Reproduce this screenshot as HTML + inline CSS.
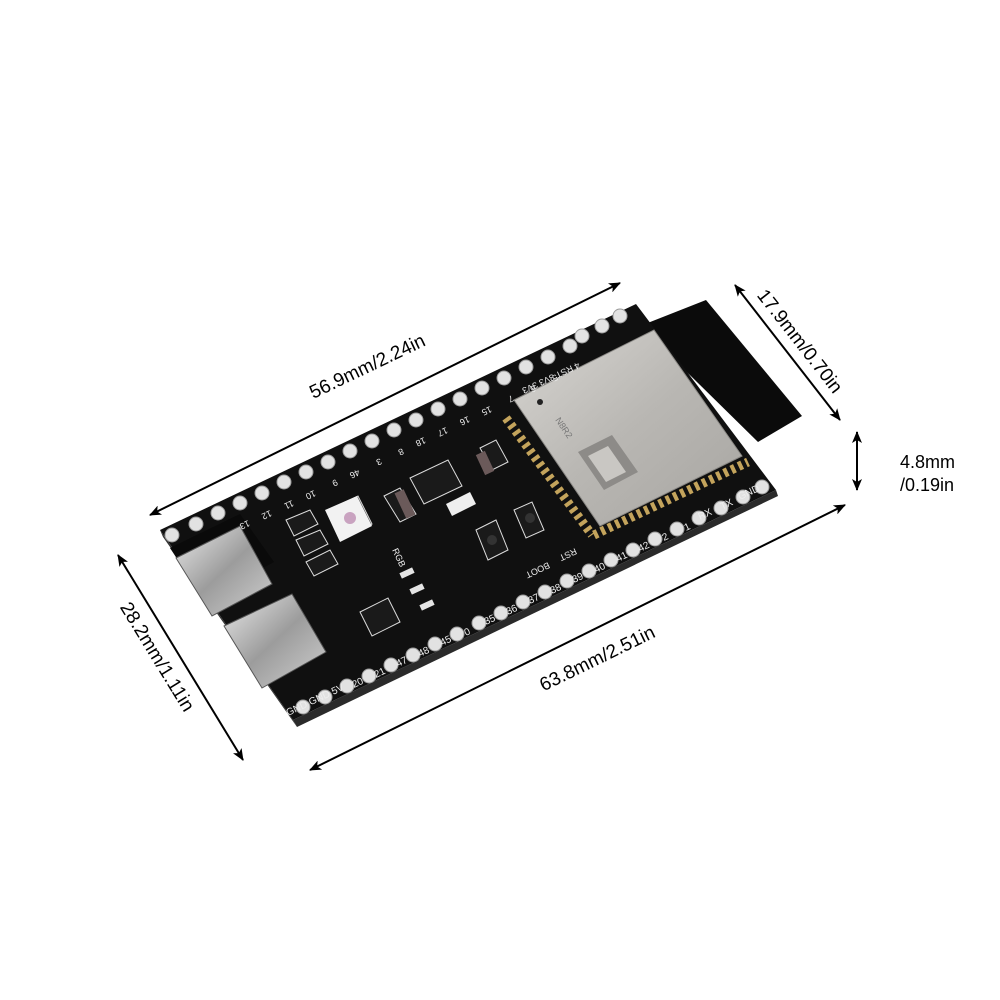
<!DOCTYPE html>
<html><head><meta charset="utf-8"><style>
html,body{margin:0;padding:0;background:#fff;}
svg{display:block;}
text{font-family:"Liberation Sans",sans-serif;}
</style></head><body>
<svg width="1000" height="1000" viewBox="0 0 1000 1000" xmlns="http://www.w3.org/2000/svg">
<defs>
<marker id="ah" markerWidth="12" markerHeight="10" refX="11" refY="5" orient="auto" markerUnits="userSpaceOnUse">
<path d="M0,0 L12,5 L0,10 L3,5 Z" fill="#000"/></marker>
<marker id="at" markerWidth="12" markerHeight="10" refX="1" refY="5" orient="auto" markerUnits="userSpaceOnUse">
<path d="M12,0 L0,5 L12,10 L9,5 Z" fill="#000"/></marker>
<linearGradient id="sil" x1="0" y1="0" x2="1" y2="1">
<stop offset="0" stop-color="#d8d6d2"/><stop offset="0.5" stop-color="#b9b7b3"/><stop offset="1" stop-color="#a7a5a1"/></linearGradient>
<linearGradient id="usb" x1="0" y1="0" x2="1" y2="1">
<stop offset="0" stop-color="#e9e9e9"/><stop offset="0.5" stop-color="#9c9c9c"/><stop offset="1" stop-color="#d0d0d0"/></linearGradient>
</defs>

<g stroke="#000" stroke-width="2" fill="none">
<line x1="150" y1="515" x2="620" y2="283" marker-start="url(#at)" marker-end="url(#ah)"/>
<line x1="735" y1="285" x2="840" y2="420" marker-start="url(#at)" marker-end="url(#ah)"/>
<line x1="857" y1="432" x2="857" y2="490" marker-start="url(#at)" marker-end="url(#ah)"/>
<line x1="310" y1="770" x2="845" y2="505" marker-start="url(#at)" marker-end="url(#ah)"/>
<line x1="118" y1="555" x2="243" y2="760" marker-start="url(#at)" marker-end="url(#ah)"/>
</g>
<g font-size="19" fill="#000">
<text x="370" y="372" text-anchor="middle" transform="rotate(-25.5 370 372)">56.9mm/2.24in</text>
<text x="795" y="345" text-anchor="middle" transform="rotate(52 795 345)">17.9mm/0.70in</text>
<text x="900" y="468" font-size="18">4.8mm</text>
<text x="900" y="491" font-size="18">/0.19in</text>
<text x="600" y="664" text-anchor="middle" transform="rotate(-26 600 664)">63.8mm/2.51in</text>
<text x="152" y="660" text-anchor="middle" transform="rotate(58.5 152 660)">28.2mm/1.11in</text>
</g>

<polygon points="640,326 706,300 802,416 758,442" fill="#0b0b0b"/>
<polygon points="160,530 636,304 776,490 293,720" fill="#101010"/>
<polygon points="160,530 293,720 297,727 163,537" fill="#333"/>
<polygon points="293,720 776,490 778,496 297,727" fill="#2a2a2a"/>

<g stroke="#c4a45c" stroke-width="9" stroke-dasharray="4 4" fill="none">
<line x1="506" y1="418" x2="592" y2="535"/>
<line x1="594" y1="535" x2="748" y2="462"/>
</g>
<polygon points="514,400 654,330 742,456 600,526" fill="url(#sil)" stroke="#8a8884" stroke-width="1"/>
<circle cx="540" cy="402" r="3" fill="#222"/>
<text x="555" y="420" font-size="9" fill="#777" transform="rotate(56 555 420)">N8R2</text>
<polygon points="578,452 612,435 638,472 604,490" fill="#8d8b88"/>
<polygon points="588,456 608,446 626,472 606,482" fill="#c9c7c3"/>

<g>
<polygon points="170,548 240,514 274,562 204,600" fill="#0a0a0a"/>
<polygon points="176,558 240,526 272,584 212,616" fill="url(#usb)" stroke="#555"/>
<polygon points="224,626 292,594 326,652 262,688" fill="url(#usb)" stroke="#555"/>
</g>

<g fill="#1a1a1a" stroke="#ddd" stroke-width="1">
<polygon points="328,510 358,496 372,524 342,540"/>
<polygon points="384,496 400,488 416,514 400,522"/>
<polygon points="410,478 448,460 462,486 424,504"/>
<polygon points="480,448 496,440 508,462 492,470"/>
<polygon points="286,520 310,510 318,524 294,536"/>
<polygon points="296,540 320,530 328,544 304,556"/>
<polygon points="306,562 330,550 338,564 314,576"/>
<polygon points="360,612 388,598 400,622 372,636"/>
<polygon points="476,530 496,520 508,550 488,560"/>
<polygon points="514,510 532,502 544,530 526,538"/>
</g>
<polygon points="325,510 357,496 372,526 340,542" fill="#f2f2f2"/>
<circle cx="350" cy="518" r="6" fill="#c9a3c0"/>
<rect x="400" y="490" width="10" height="28" fill="#6b5a5a" transform="rotate(-25 405 504)"/>
<rect x="480" y="452" width="10" height="22" fill="#6b5a5a" transform="rotate(-25 485 463)"/>
<polygon points="446,504 470,492 476,504 452,516" fill="#eee"/>
<circle cx="492" cy="540" r="5" fill="#333"/>
<circle cx="530" cy="518" r="5" fill="#333"/>
<g fill="#e5e5e5">
<rect x="400" y="570" width="14" height="6" transform="rotate(-25 407 573)"/>
<rect x="410" y="586" width="14" height="6" transform="rotate(-25 417 589)"/>
<rect x="420" y="602" width="14" height="6" transform="rotate(-25 427 605)"/>
</g>

<g fill="#e2e2e2" stroke="#9a9a9a" stroke-width="1">
<circle cx="172" cy="535" r="7"/><circle cx="196" cy="524" r="7"/><circle cx="218" cy="513" r="7"/>
<circle cx="240" cy="503" r="7"/><circle cx="262" cy="493" r="7"/><circle cx="284" cy="482" r="7"/>
<circle cx="306" cy="472" r="7"/><circle cx="328" cy="462" r="7"/><circle cx="350" cy="451" r="7"/>
<circle cx="372" cy="441" r="7"/><circle cx="394" cy="430" r="7"/><circle cx="416" cy="420" r="7"/>
<circle cx="438" cy="409" r="7"/><circle cx="460" cy="399" r="7"/><circle cx="482" cy="388" r="7"/>
<circle cx="504" cy="378" r="7"/><circle cx="526" cy="367" r="7"/><circle cx="548" cy="357" r="7"/>
<circle cx="570" cy="346" r="7"/><circle cx="582" cy="336" r="7"/><circle cx="602" cy="326" r="7"/><circle cx="620" cy="316" r="7"/>
</g>
<g fill="#e2e2e2" stroke="#9a9a9a" stroke-width="1">
<circle cx="303" cy="707" r="7"/><circle cx="325" cy="697" r="7"/><circle cx="347" cy="686" r="7"/>
<circle cx="369" cy="676" r="7"/><circle cx="391" cy="665" r="7"/><circle cx="413" cy="655" r="7"/>
<circle cx="435" cy="644" r="7"/><circle cx="457" cy="634" r="7"/><circle cx="479" cy="623" r="7"/>
<circle cx="501" cy="613" r="7"/><circle cx="523" cy="602" r="7"/><circle cx="545" cy="592" r="7"/>
<circle cx="567" cy="581" r="7"/><circle cx="589" cy="571" r="7"/><circle cx="611" cy="560" r="7"/>
<circle cx="633" cy="550" r="7"/><circle cx="655" cy="539" r="7"/><circle cx="677" cy="529" r="7"/>
<circle cx="699" cy="518" r="7"/><circle cx="721" cy="508" r="7"/><circle cx="743" cy="497" r="7"/><circle cx="762" cy="487" r="7"/>
</g>

<g fill="#eee" font-size="9">
<text transform="translate(248,520) rotate(155)">13</text>
<text transform="translate(270,510) rotate(155)">12</text>
<text transform="translate(292,500) rotate(155)">11</text>
<text transform="translate(314,490) rotate(155)">10</text>
<text transform="translate(336,479) rotate(155)">9</text>
<text transform="translate(358,469) rotate(155)">46</text>
<text transform="translate(380,458) rotate(155)">3</text>
<text transform="translate(402,448) rotate(155)">8</text>
<text transform="translate(424,437) rotate(155)">18</text>
<text transform="translate(446,427) rotate(155)">17</text>
<text transform="translate(468,416) rotate(155)">16</text>
<text transform="translate(490,406) rotate(155)">15</text>
<text transform="translate(512,395) rotate(155)">7</text>
<text transform="translate(534,385) rotate(155)">6</text>
<text transform="translate(556,374) rotate(155)">5</text>
<text transform="translate(578,362) rotate(155)">4 RST 3V3 3V3</text>
<text transform="translate(548,562) rotate(155)">BOOT</text>
<text transform="translate(575,548) rotate(155)">RST</text>
<text transform="translate(392,550) rotate(65)">RGB</text>
</g>
<g fill="#eee" font-size="10">
<text transform="translate(288,716) rotate(-25)">GND GND 5V</text>
<text transform="translate(354,688) rotate(-25)">20</text>
<text transform="translate(376,678) rotate(-25)">21</text>
<text transform="translate(398,667) rotate(-25)">47</text>
<text transform="translate(420,657) rotate(-25)">48</text>
<text transform="translate(442,646) rotate(-25)">45</text>
<text transform="translate(466,636) rotate(-25)">0</text>
<text transform="translate(486,625) rotate(-25)">35</text>
<text transform="translate(508,615) rotate(-25)">36</text>
<text transform="translate(530,604) rotate(-25)">37</text>
<text transform="translate(552,594) rotate(-25)">38</text>
<text transform="translate(574,583) rotate(-25)">39</text>
<text transform="translate(596,573) rotate(-25)">40</text>
<text transform="translate(618,562) rotate(-25)">41</text>
<text transform="translate(640,552) rotate(-25)">42</text>
<text transform="translate(664,541) rotate(-25)">2</text>
<text transform="translate(686,531) rotate(-25)">1</text>
<text transform="translate(700,520) rotate(-25)">RX</text>
<text transform="translate(722,510) rotate(-25)">TX</text>
<text transform="translate(740,500) rotate(-25)">GND</text>
</g>
</svg>
</body></html>
